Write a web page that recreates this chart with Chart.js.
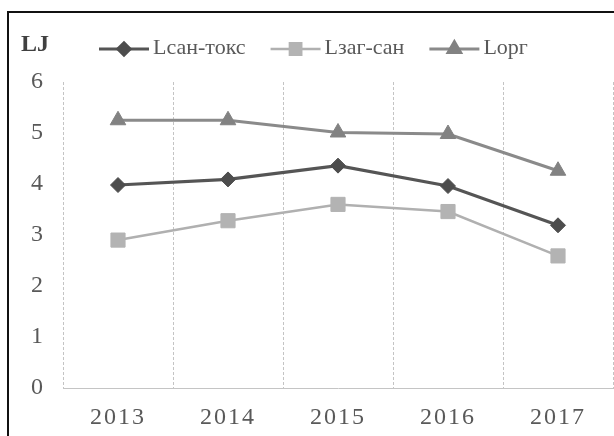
<!DOCTYPE html>
<html>
<head>
<meta charset="utf-8">
<script src="https://cdn.jsdelivr.net/npm/chart.js@4/dist/chart.umd.min.js"></script>
<style>
  html, body { margin: 0; padding: 0; background: #fff; }
  #wrap { position: relative; width: 614px; height: 436px; overflow: hidden; }
  #frame { position: absolute; left: 7px; top: 11px; width: 700px; height: 500px;
           border-left: 2px solid #111; border-top: 2px solid #111; box-sizing: border-box; }
  canvas { position: absolute; left: 0; top: 0; }
</style>
</head>
<body>
<div id="wrap">
  <canvas id="c" width="614" height="436"></canvas>
  <div id="frame"></div>
</div>
<script>
// Categories and series
const years = ['2013', '2014', '2015', '2016', '2017'];
const seriesNames = ['Lсан-токс', 'Lзаг-сан', 'Lорг'];
const sanToks = [3.98, 4.09, 4.36, 3.96, 3.19];
const zagSan = [2.90, 3.28, 3.60, 3.46, 2.59];
const org = [5.25, 5.25, 5.01, 4.98, 4.26];
const yTickValues = [0, 1, 2, 3, 4, 5, 6];
const axisLabel = 'LJ';

const SERIF = '"Liberation Serif", "Times New Roman", serif';

// Legend drawn as line + marker + label in one row, and the axis caption
const legendRow = {
  id: 'legendRow',
  afterDraw(chart) {
    const ctx = chart.ctx;
    ctx.save();
    ctx.font = 'bold 24px ' + SERIF;
    ctx.fillStyle = '#404040';
    ctx.textAlign = 'left';
    ctx.textBaseline = 'alphabetic';
    ctx.fillText(axisLabel, 21, 51);

    ctx.font = '22px ' + SERIF;
    ctx.textBaseline = 'middle';
    let x = 99;
    const y = 49;
    chart.data.datasets.forEach(ds => {
      ctx.strokeStyle = ds.borderColor;
      ctx.lineWidth = ds.borderWidth;
      ctx.beginPath();
      ctx.moveTo(x, y);
      ctx.lineTo(x + 50, y);
      ctx.stroke();
      ctx.fillStyle = ds.pointBackgroundColor;
      ctx.strokeStyle = ds.pointBorderColor;
      Chart.helpers.drawPoint(ctx, {
        pointStyle: ds.pointStyle,
        radius: ds.pointRadius * 0.8,
        rotation: 0,
        borderWidth: 1
      }, x + 25, y);
      ctx.fillStyle = '#595959';
      ctx.fillText(ds.label, x + 54, y - 1);
      x += 54 + ctx.measureText(ds.label).width + 25;
    });
    ctx.restore();
  }
};

// Wider character spacing on the year labels
const spacedYears = {
  id: 'spacedYears',
  beforeDraw(chart) {
    const sx = chart.scales.x;
    if (sx && !sx._spaced) {
      const orig = sx.drawLabels;
      sx.drawLabels = function (area) {
        const ctx = this.ctx;
        ctx.save();
        ctx.letterSpacing = '2px';
        orig.call(this, area);
        ctx.restore();
      };
      sx._spaced = true;
    }
  }
};

new Chart(document.getElementById('c'), {
  type: 'line',
  data: {
    labels: years,
    datasets: [
      {
        label: seriesNames[0], data: sanToks,
        borderColor: '#555555', borderWidth: 3.2,
        pointStyle: 'rectRot', pointRadius: 7.5,
        pointBackgroundColor: '#4d4d4d', pointBorderColor: '#4d4d4d', pointBorderWidth: 1
      },
      {
        label: seriesNames[1], data: zagSan,
        borderColor: '#b0b0b0', borderWidth: 2.5,
        pointStyle: 'rect', pointRadius: 10,
        pointBackgroundColor: '#b3b3b3', pointBorderColor: '#b3b3b3', pointBorderWidth: 1
      },
      {
        label: seriesNames[2], data: org,
        borderColor: '#8a8a8a', borderWidth: 3,
        pointStyle: 'triangle', pointRadius: 9,
        pointBackgroundColor: '#828282', pointBorderColor: '#828282', pointBorderWidth: 1
      }
    ]
  },
  options: {
    responsive: false,
    animation: false,
    devicePixelRatio: 1,
    layout: { autoPadding: false, padding: { top: 82, left: 8, right: 1, bottom: 4 } },
    plugins: {
      legend: { display: false },
      tooltip: { enabled: false }
    },
    scales: {
      x: {
        offset: true,
        afterFit(scale) { scale.height = 44; scale.paddingLeft = 0; scale.paddingRight = 0; },
        grid: { display: true, offset: true, drawTicks: false, color: '#c4c4c4', lineWidth: 1 },
        border: { display: true, color: '#c4c4c4', width: 1, dash: [3, 2] },
        ticks: { padding: 15, color: '#595959', font: { family: SERIF, size: 24 } }
      },
      y: {
        min: 0, max: 6,
        afterBuildTicks(scale) { scale.ticks = yTickValues.map(v => ({ value: v })); },
        afterFit(scale) { scale.width = 55; },
        grid: { display: false, drawTicks: false },
        border: { display: false },
        ticks: { padding: 20, color: '#595959', font: { family: SERIF, size: 24 } }
      }
    }
  },
  plugins: [legendRow, spacedYears]
});
</script>
</body>
</html>
